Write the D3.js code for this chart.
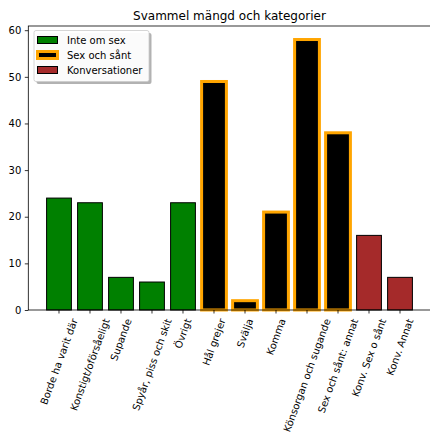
<!DOCTYPE html>
<html>
<head>
<meta charset="utf-8">
<script src="https://cdn.jsdelivr.net/npm/d3@7"></script>
<style>
  body { margin: 0; background: #fff; }
  svg { display: block; font-family: "DejaVu Sans", sans-serif; }
  svg text { font-family: "DejaVu Sans", sans-serif; }
  .tick text { font-size: 10px; fill: #000; }
</style>
</head>
<body>
<div id="chart"></div>
<script>
// ---- data ----
const categories = [
  'Borde ha varit där', 'Konstigt/oförsåeligt', 'Supande', 'Spyår, piss och skit', 'Övrigt',
  'Hål grejer', 'Svälja', 'Komma', 'Könsorgan och sugande', 'Sex och sånt: annat',
  'Konv. Sex o sånt', 'Konv. Annat'
];
const values = [24, 23, 7, 6, 23, 49, 2, 21, 58, 38, 16, 7];
const groupOf = [0, 0, 0, 0, 0, 1, 1, 1, 1, 1, 2, 2];
const groupNames = ['Inte om sex', 'Sex och sånt', 'Konversationer'];
const yTicks = [0, 10, 20, 30, 40, 50, 60];

const groupStyle = [
  { fill: '#008000', stroke: '#000', sw: 1 },
  { fill: '#000', stroke: '#ffa500', sw: 3 },
  { fill: '#a52a2a', stroke: '#000', sw: 1 }
];

const W = 430, H = 434;
const plotL = 28.3, plotR = 430.7, plotT = 26, plotB = 310;
const FONT = '"DejaVu Sans", sans-serif';

const svg = d3.select('#chart').append('svg')
  .attr('width', W).attr('height', H);

const x = d3.scaleBand()
  .domain(categories)
  .range([plotL, plotR])
  .paddingInner(0.2)
  .paddingOuter(0.59);

const y = d3.scaleLinear()
  .domain([0, 58 * 1.05])
  .range([plotB, plotT]);

// bars
svg.append('g').selectAll('rect')
  .data(categories)
  .enter()
  .append('rect')
  .attr('x', d => x(d))
  .attr('width', x.bandwidth())
  .attr('y', (d, i) => y(values[i]))
  .attr('height', (d, i) => y(0) - y(values[i]))
  .attr('fill', (d, i) => groupStyle[groupOf[i]].fill)
  .attr('stroke', (d, i) => groupStyle[groupOf[i]].stroke)
  .attr('stroke-width', (d, i) => groupStyle[groupOf[i]].sw);

// spines
svg.append('rect')
  .attr('x', plotL).attr('y', plotT)
  .attr('width', plotR - plotL).attr('height', plotB - plotT)
  .attr('fill', 'none').attr('stroke', '#000').attr('stroke-width', 0.8);

// y axis
svg.append('g')
  .attr('transform', `translate(${plotL},0)`)
  .call(d3.axisLeft(y).tickValues(yTicks).tickSize(3.5).tickPadding(3.5))
  .attr('font-family', FONT).attr('font-size', 10)
  .call(g => g.select('.domain').remove())
  .call(g => g.selectAll('.tick line').attr('stroke', '#000').attr('stroke-width', 0.8));

// x axis
const xAxis = svg.append('g')
  .attr('transform', `translate(0,${plotB})`)
  .call(d3.axisBottom(x).tickSize(3.5).tickSizeOuter(0))
  .attr('font-family', FONT).attr('font-size', 10)
  .call(g => g.select('.domain').remove())
  .call(g => g.selectAll('.tick line').attr('stroke', '#000').attr('stroke-width', 0.8));

// rotated labels, centred under tick like matplotlib rotation=70
const ang = 70 * Math.PI / 180;
const th = 11.6;
xAxis.selectAll('.tick text').each(function() {
  const t = d3.select(this);
  t.attr('text-anchor', 'middle').attr('dy', null).attr('dominant-baseline', 'central');
  const w = this.getComputedTextLength();
  const hh = (w / 2) * Math.sin(ang) + (th / 2) * Math.cos(ang);
  const cy = 3.5 + 3.5 + hh;
  t.attr('y', 0).attr('x', 0)
    .attr('transform', `translate(0,${cy}) rotate(-70)`);
});

// title
svg.append('text')
  .attr('x', (plotL + plotR) / 2)
  .attr('y', plotT - 6)
  .attr('text-anchor', 'middle')
  .attr('font-size', 12)
  .text('Svammel mängd och kategorier');

// legend
const lg = svg.append('g').attr('transform', 'translate(34,30.5)');
const lw = 115, lh = 51;
lg.append('rect')
  .attr('x', 2.5).attr('y', 2.5).attr('width', lw).attr('height', lh)
  .attr('rx', 2).attr('fill', '#000').attr('opacity', 0.3);
lg.append('rect')
  .attr('width', lw).attr('height', lh).attr('rx', 2)
  .attr('fill', '#fff').attr('fill-opacity', 0.95)
  .attr('stroke', '#ccc').attr('stroke-width', 0.8);

const items = lg.selectAll('.item')
  .data(groupNames)
  .enter()
  .append('g')
  .attr('transform', (d, i) => `translate(0,${9.5 + i * 15})`);

items.append('rect')
  .attr('x', 3.5).attr('y', -3.5).attr('width', 20).attr('height', 7)
  .attr('fill', (d, i) => groupStyle[i].fill)
  .attr('stroke', (d, i) => groupStyle[i].stroke)
  .attr('stroke-width', (d, i) => groupStyle[i].sw);

items.append('text')
  .attr('x', 33)
  .attr('dy', '0.35em')
  .attr('font-size', 10)
  .text(d => d);
</script>
</body>
</html>
